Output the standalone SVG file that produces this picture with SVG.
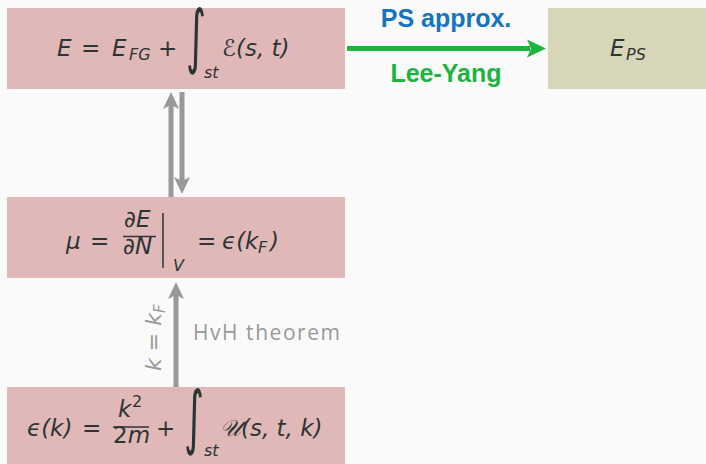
<svg xmlns="http://www.w3.org/2000/svg" width="706" height="464" viewBox="0 0 706 464">
<defs>
<style>
.bg{fill:#fafafa}
.pink{fill:#e0b8b8}
.olive{fill:#d8d6b9}
.m{font-family:"DejaVu Sans","Liberation Sans",sans-serif;font-style:oblique;fill:#2b3535;font-size:23px}
.r{font-family:"DejaVu Sans","Liberation Sans",sans-serif;font-style:normal;fill:#2b3535;font-size:23px}
.sub{font-size:16px}
.int{font-family:"DejaVu Sans",sans-serif;font-size:70px;fill:#2b3535}
.lbl{font-family:"Liberation Sans","DejaVu Sans",sans-serif;font-weight:bold;font-size:25px}
.g{stroke:#999999;stroke-width:5;fill:none}
.gh{fill:#999999}
</style>
</defs>
<rect class="bg" x="0" y="0" width="706" height="464"/>
<g id="node-energy">
<rect class="pink" x="7" y="8" width="338" height="81"/>
<text class="m" x="57" y="56">E</text>
<text class="r" x="81" y="56">=</text>
<text class="m" x="112" y="56">E</text>
<text class="m sub" x="129" y="60">FG</text>
<text class="r" x="158" y="56">+</text>
<text class="int" x="186" y="60" transform="translate(186 0) scale(0.55 1) translate(-186 0)">∫</text>
<text class="m sub" x="204" y="78">st</text>
<text class="m" x="222" y="56">ℰ(s, t)</text>
</g>
<g id="node-eps">
<rect class="olive" x="548" y="8" width="158" height="81"/>
<text class="m" x="610" y="56">E</text>
<text class="m sub" x="626" y="60">PS</text>
</g>
<g id="node-mu">
<rect class="pink" x="7" y="197" width="338" height="81"/>
<text class="m" x="66" y="249">μ</text>
<text class="r" x="90" y="249">=</text>
<text class="m" x="124" y="227">∂E</text>
<line x1="123" y1="236.5" x2="156" y2="236.5" stroke="#2b3535" stroke-width="1.3"/>
<text class="m" x="123" y="254">∂N</text>
<line x1="163" y1="213" x2="163" y2="268" stroke="#2b3535" stroke-width="1.5"/>
<text class="m sub" x="173" y="271">V</text>
<text class="r" x="197" y="249">=</text>
<text class="m" x="222" y="249">ϵ(k</text>
<text class="m sub" x="258" y="253">F</text>
<text class="m" x="270" y="249">)</text>
</g>
<g id="node-spectrum">
<rect class="pink" x="7" y="387" width="338" height="80"/>
<text class="m" x="27" y="436">ϵ(k)</text>
<text class="r" x="82" y="436">=</text>
<text class="m" x="118" y="417">k</text>
<text class="r sub" x="132" y="407">2</text>
<line x1="113" y1="427" x2="149" y2="427" stroke="#2b3535" stroke-width="1.3"/>
<text class="r" x="113" y="443">2<tspan class="m">m</tspan></text>
<text class="r" x="156" y="436">+</text>
<text class="int" x="184" y="441" transform="translate(184 0) scale(0.55 1) translate(-184 0)">∫</text>
<text class="m sub" x="204" y="456">st</text>
<text class="m" x="220" y="436">𝒰(s, t, k)</text>
</g>
<g id="connectors">
<line x1="347" y1="48.5" x2="530" y2="48.5" stroke="#1db33f" stroke-width="5"/>
<polygon points="546,48.5 527,39.5 531,48.5 527,57.5" fill="#1db33f"/>
<text class="lbl" x="446" y="27" text-anchor="middle" fill="#1574c1">PS approx.</text>
<text class="lbl" x="446" y="82" text-anchor="middle" fill="#1db33f">Lee-Yang</text>
<line class="g" x1="171" y1="197" x2="171" y2="104"/>
<polygon class="gh" points="171,92 163,109 171,105 179,109"/>
<line class="g" x1="182" y1="92" x2="182" y2="182"/>
<polygon class="gh" points="182,194 174,177 182,181 190,177"/>
<line class="g" x1="176" y1="387" x2="176" y2="294"/>
<polygon class="gh" points="176,282 168,299 176,295 184,299"/>
<text x="193" y="340" font-family="'Open Sans','DejaVu Sans',sans-serif" font-size="21" fill="#999999" textLength="147">HvH theorem</text>
<text transform="translate(161 371) rotate(-90)" font-family="'DejaVu Sans',sans-serif" font-size="22" fill="#999999"><tspan font-style="oblique">k</tspan> = <tspan font-style="oblique">k</tspan><tspan font-style="oblique" font-size="15" dy="4">F</tspan></text>
</g>
</svg>
